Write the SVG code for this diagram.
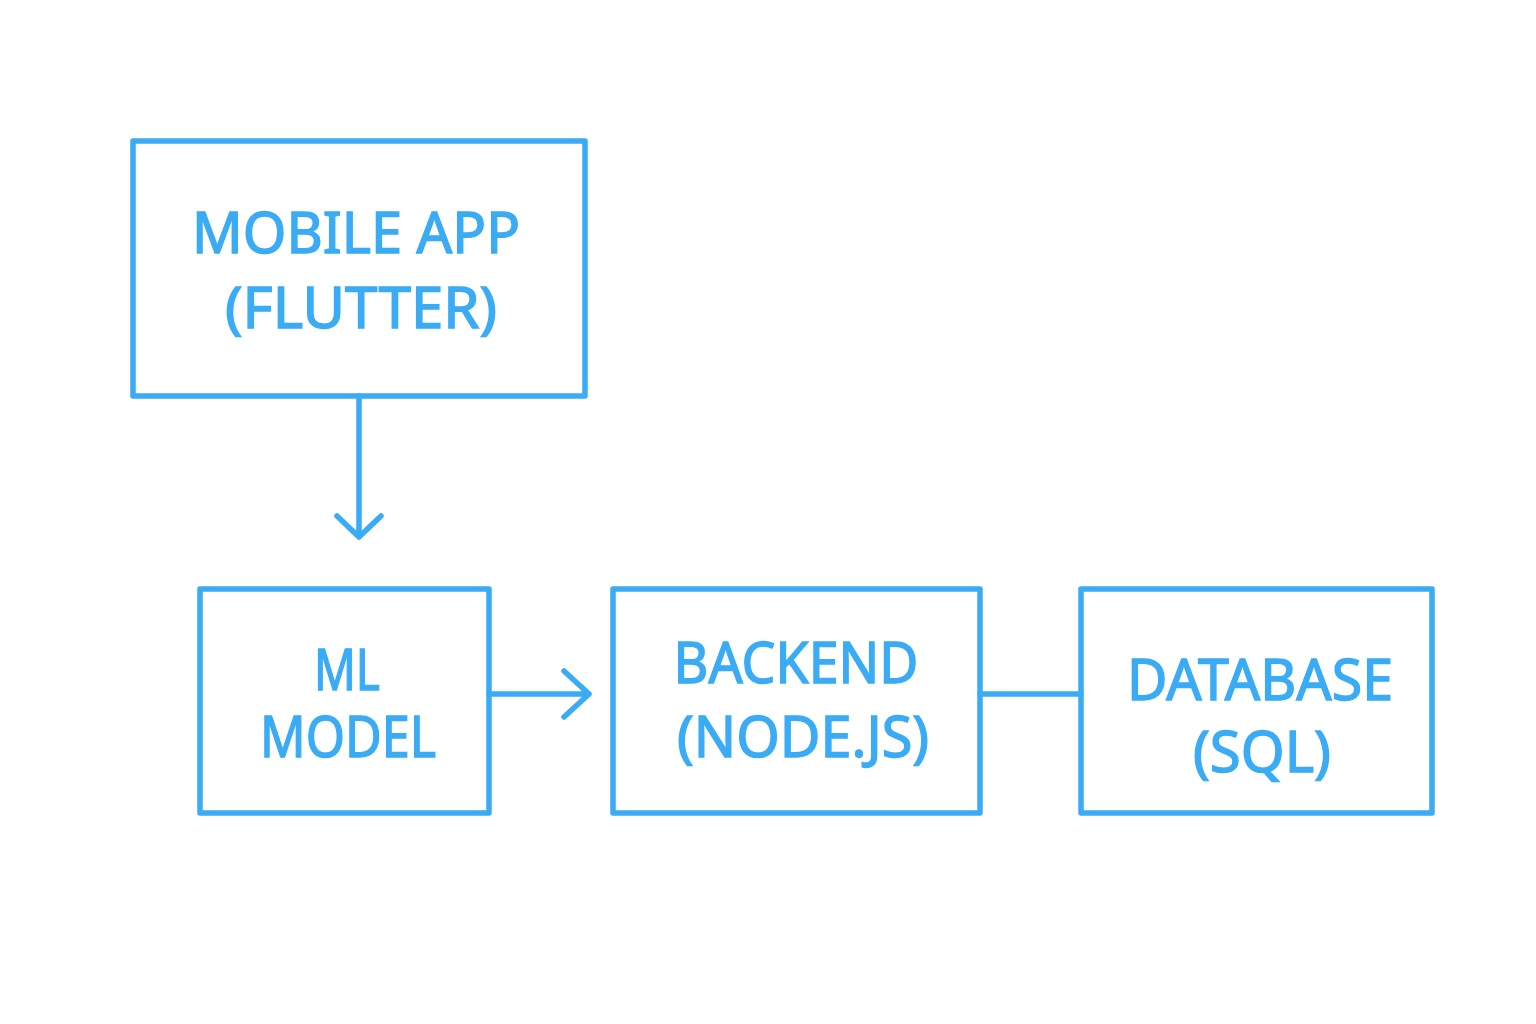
<svg xmlns="http://www.w3.org/2000/svg" width="1536" height="1024" viewBox="0 0 1536 1024">
<style>
.box{fill:none;stroke:#3aabf5;stroke-width:5.5;stroke-linejoin:round}
.con{fill:none;stroke:#3aabf5;stroke-width:5.5;stroke-linecap:round;stroke-linejoin:round}
.t{font-family:"Noto Sans","DejaVu Sans",sans-serif;font-size:57px;fill:#3aabf5;stroke:#3aabf5;stroke-width:1.4;text-anchor:middle}
</style>
<rect width="1536" height="1024" fill="#ffffff"/>
<g id="mobile-app">
<rect class="box" x="133" y="141" width="452" height="255"/>
<text class="t" x="356" y="253" textLength="328" lengthAdjust="spacingAndGlyphs">MOBILE APP</text>
<text class="t" x="361" y="328" textLength="272" lengthAdjust="spacingAndGlyphs">(FLUTTER)</text>
</g>
<g id="ml-model">
<rect class="box" x="200" y="589" width="289" height="224"/>
<text class="t" x="347" y="690" textLength="66" lengthAdjust="spacingAndGlyphs">ML</text>
<text class="t" x="348" y="757" textLength="176" lengthAdjust="spacingAndGlyphs">MODEL</text>
</g>
<g id="backend">
<rect class="box" x="613" y="589" width="367" height="224"/>
<text class="t" x="796" y="683" textLength="245" lengthAdjust="spacingAndGlyphs">BACKEND</text>
<text class="t" x="803" y="757" textLength="252" lengthAdjust="spacingAndGlyphs">(NODE.JS)</text>
</g>
<g id="database">
<rect class="box" x="1081" y="589" width="351" height="224"/>
<text class="t" x="1260" y="700" textLength="266" lengthAdjust="spacingAndGlyphs">DATABASE</text>
<text class="t" x="1262" y="772" textLength="138" lengthAdjust="spacingAndGlyphs">(SQL)</text>
</g>
<g id="connectors">
<path class="con" d="M359 396 V537 M337 516 L359 537 L381 516"/>
<path class="con" d="M489 694 H589 M564 671 L589 694 L564 717"/>
<path class="con" d="M980 694 H1081"/>
</g>
</svg>
